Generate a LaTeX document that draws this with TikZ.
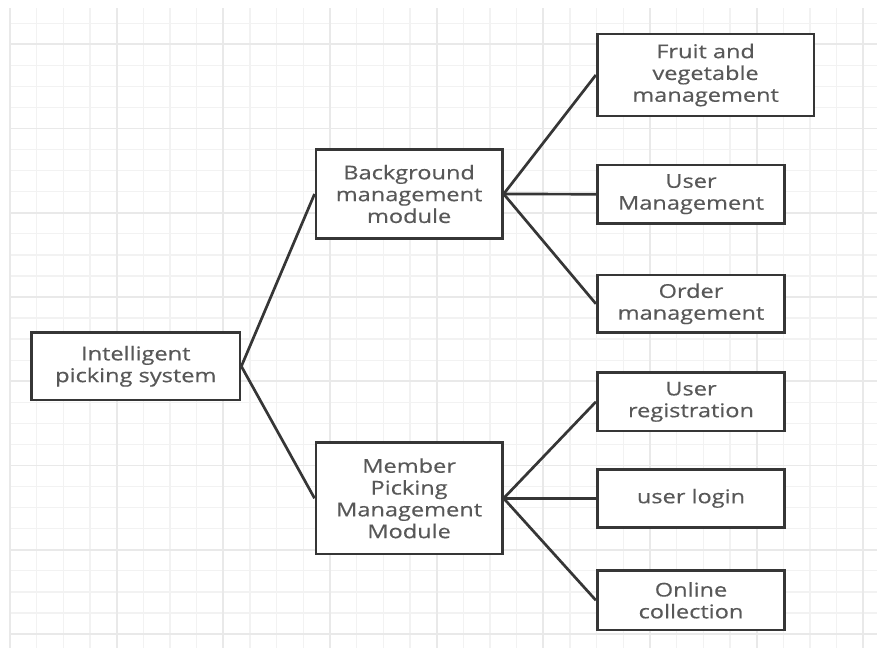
\documentclass[tikz,border=0pt]{standalone}
\usepackage{fontspec}
\newfontfamily\dfont[FakeStretch=1.24,FakeBold=0.4]{Open Sans}
\definecolor{gminor}{HTML}{F2F2F2}
\definecolor{gmajor}{HTML}{E9E9E9}
\definecolor{boxline}{HTML}{363636}
\definecolor{txt}{HTML}{585858}
\tikzset{
  gridminor/.style={draw=gminor, line width=1.3pt},
  gridmajor/.style={draw=gmajor, line width=1.8pt},
  box/.style={draw=boxline, line width=2.8pt, fill=white, inner sep=0pt,
    align=center, text=txt, font=\dfont\fontsize{19}{21.8}\selectfont},
  link/.style={draw=boxline, line width=2.7pt},
}
\begin{document}
\begin{tikzpicture}[x=1pt, y=-1pt]
\useasboundingbox (0,0) rectangle (877,648);
\fill[white] (0,0) rectangle (877,648);
% grid
\foreach \k in {1,...,30} \draw[gridminor] (10,{2.18+21.06*\k}) -- (877,{2.18+21.06*\k});
\foreach \k in {1,...,32} \draw[gridminor] ({10+26.667*\k},8) -- ({10+26.667*\k},648);
\foreach \k in {2,6,...,30} \draw[gridmajor] (10,{2.18+21.06*\k}) -- (877,{2.18+21.06*\k});
\foreach \k in {0,4,...,32} \draw[gridmajor] ({10+26.667*\k},8) -- ({10+26.667*\k},648);
% nodes
\node[box, minimum width=208.3pt, minimum height=67.3pt] (sys) at (135.8,366.3) {Intelligent\\picking system};
\node[box, minimum width=186.3pt, minimum height=89.4pt] (bg) at (409.1,194) {Background\\management\\module};
\node[box, minimum width=186.3pt, minimum height=111.3pt] (mem) at (409.1,498.3) {Member\\Picking\\Management\\Module};
\node[box, minimum width=216.7pt, minimum height=82pt] (fruit) at (705.6,75) {Fruit and\\vegetable\\management};
\node[box, minimum width=187.4pt, minimum height=58.3pt] (um) at (691,194.2) {User\\Management};
\node[box, minimum width=187.4pt, minimum height=57.7pt] (order) at (691,303.8) {Order\\management};
\node[box, minimum width=187.4pt, minimum height=58.3pt] (ureg) at (691,401.8) {User\\registration};
\node[box, minimum width=187.4pt, minimum height=58pt] (login) at (691,498.3) {user login};
\node[box, minimum width=187.4pt, minimum height=59.3pt] (online) at (691,600.3) {Online\\collection};
% connectors
\draw[link] (sys.east) -- (bg.west);
\draw[link] (sys.east) -- (mem.west);
\draw[link] (bg.east) -- (fruit.west);
\draw[link] (bg.east) -- (um.west);
\draw[link] (bg.east) -- (order.west);
\draw[link] (mem.east) -- (ureg.west);
\draw[link] (mem.east) -- (login.west);
\draw[link] (mem.east) -- (online.west);
\end{tikzpicture}
\end{document}
